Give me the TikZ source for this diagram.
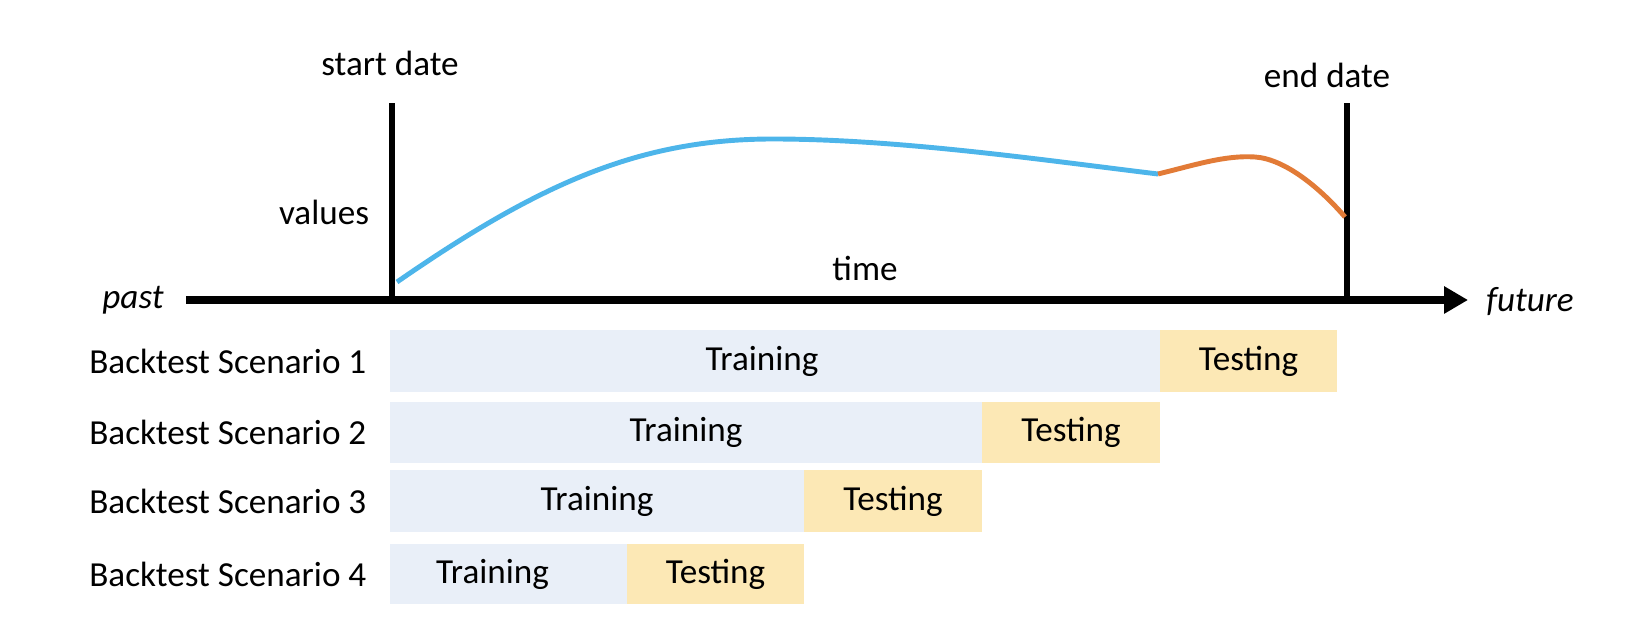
\documentclass[tikz,border=0pt]{standalone}
\usepackage{fontspec}
\setmainfont{Carlito}
\usetikzlibrary{arrows.meta}
\definecolor{trainblue}{HTML}{E9EFF8}
\definecolor{testgold}{HTML}{FCE8B5}
\definecolor{curveblue}{HTML}{4DB5EA}
\definecolor{curveorange}{HTML}{E27B37}

\begin{document}
\begin{tikzpicture}[font=\fontsize{10}{12}\selectfont,
    trainbar/.style={fill=trainblue, minimum height=0.615cm, inner sep=0pt, outer sep=0pt},
    testbar/.style={fill=testgold, minimum height=0.615cm, inner sep=0pt, outer sep=0pt},
    rowlabel/.style={anchor=east, inner sep=0pt},
    dateline/.style={line width=1.5pt}]
            \useasboundingbox (0,0) rectangle (16.38,6.38);

            \node[] (past) at (1.33,3.38) {\itshape past};
            \node[] (future) at (15.30,3.36) {\itshape future};
            \node[] (sd) at (3.90,5.75) {start date};
            \node[] (ed) at (13.27,5.63) {end date};
            \node[] (val) at (3.24,4.26) {values};
            \node[] (time) at (8.65,3.70) {time};

            \coordinate (P) at (1.86,3.38);
            \coordinate (F) at (14.68,3.38);
            \coordinate (s0) at (3.92,3.38);
            \coordinate (s1) at (3.92,5.35);
            \coordinate (e0) at (13.47,3.38);
            \coordinate (e1) at (13.47,5.35);

            \coordinate (c0) at (3.97,3.56);
            \coordinate (c1) at (7.73,4.99);
            \coordinate (c2) at (11.58,4.64);
            \coordinate (c3) at (12.55,4.81);
            \coordinate (c4) at (13.45,4.21);

            \draw[dateline] (s0) -- (s1);
            \draw[dateline] (e0) -- (e1);
            \draw[line width=2pt, -{Triangle[length=0.24cm,width=0.26cm]}] (P) -- (F);

            \draw[curveblue, line width=1.4pt] (c0) .. controls (5.4,4.55) and (6.4,4.99) .. (c1)
                .. controls (9.0,4.99) and (10.5,4.77) .. (c2);
            \draw[curveorange, line width=1.4pt] (c2) .. controls (11.95,4.73) and (12.25,4.83) .. (c3)
                .. controls (12.85,4.79) and (13.2,4.5) .. (c4);

            \node[trainbar, minimum width=7.70cm] (tr1) at (7.75,2.77) {};
            \node[testbar, minimum width=1.77cm] (te1) at (12.485,2.77) {Testing};
            \node[trainbar, minimum width=5.92cm] (tr2) at (6.86,2.055) {Training};
            \node[testbar, minimum width=1.78cm] (te2) at (10.71,2.055) {Testing};
            \node[trainbar, minimum width=4.14cm] (tr3) at (5.97,1.37) {Training};
            \node[testbar, minimum width=1.78cm] (te3) at (8.93,1.37) {Testing};
            \node[trainbar, minimum width=2.37cm, minimum height=0.60cm] (tr4) at (5.085,0.64) {};
            \node[testbar, minimum width=1.77cm, minimum height=0.60cm] (te4) at (7.155,0.64) {Testing};

            \node[] (trt1) at (7.62,2.77) {Training};
            \node[] (trt4) at (4.925,0.64) {Training};

            \node[rowlabel] (bs1) at (3.67,2.77) {Backtest Scenario 1};
            \node[rowlabel] (bs2) at (3.67,2.055) {Backtest Scenario 2};
            \node[rowlabel] (bs3) at (3.67,1.37) {Backtest Scenario 3};
            \node[rowlabel] (bs4) at (3.67,0.64) {Backtest Scenario 4};

        \end{tikzpicture}
\end{document}
